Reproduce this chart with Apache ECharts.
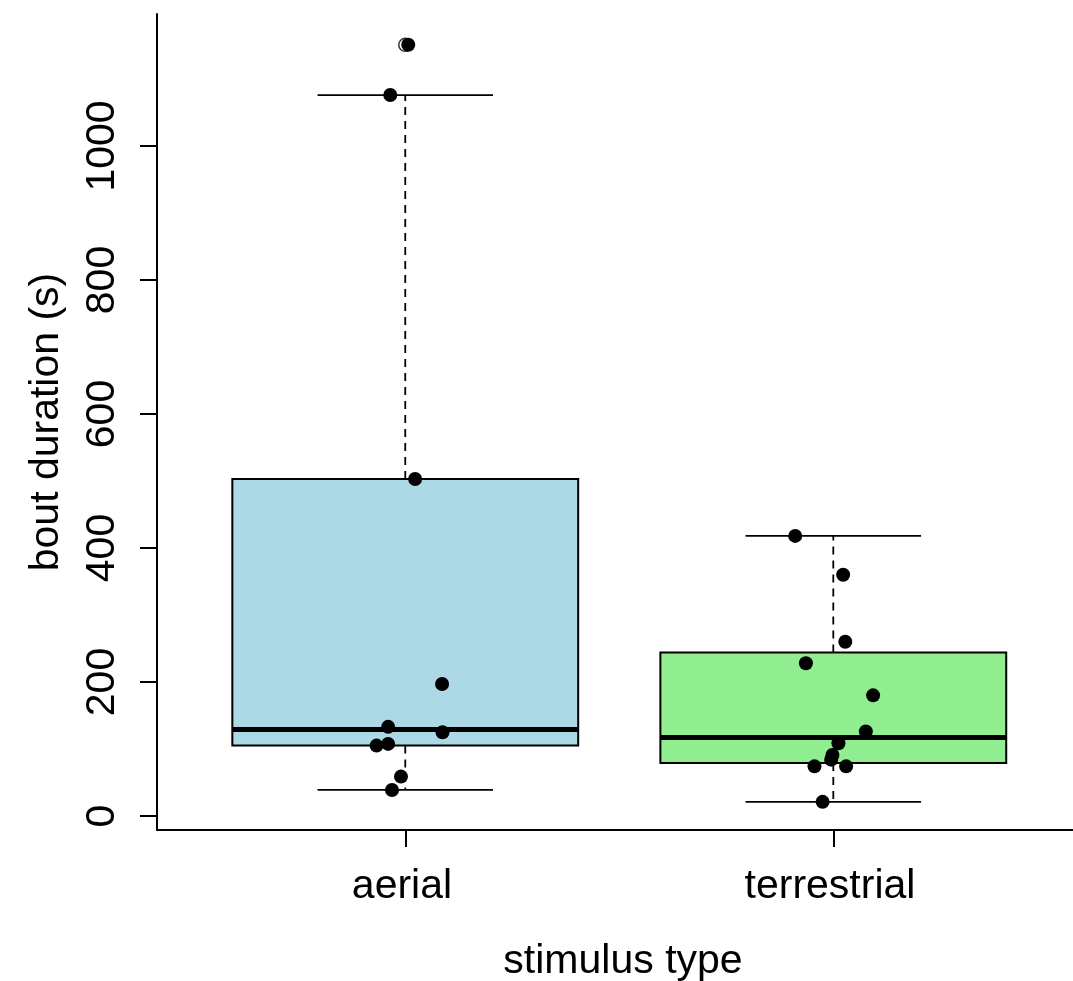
<!DOCTYPE html>
<html>
<head>
<meta charset="utf-8">
<script src="https://cdn.jsdelivr.net/npm/echarts@6/dist/echarts.min.js"></script>
<style>
  html, body { margin: 0; padding: 0; background: #ffffff; }
  #chart { width: 1073px; height: 981px; }
</style>
</head>
<body>
<div id="chart"></div>
<script>
// Bout durations (s) per stimulus type, with the horizontal jitter of each dot
const categories = ['aerial', 'terrestrial'];
const aerialValues = [1151, 1076, 503, 197, 133, 125, 107.5, 105, 58.7, 38.8];
const aerialJitter = [0.007, -0.035, 0.023, 0.086, -0.040, 0.087, -0.040, -0.067, -0.010, -0.031];
const terrestrialValues = [418, 360, 260, 228, 180, 126, 108.5, 91, 84, 74, 74, 21];
const terrestrialJitter = [-0.089, 0.023, 0.028, -0.064, 0.093, 0.076, 0.012, -0.002, -0.005, -0.044, 0.030, -0.025];
const yTickValues = [0, 200, 400, 600, 800, 1000];
const boxColors = ['#ADD8E6', '#90EE90'];

const FONT = '"Liberation Sans", Arial, sans-serif';
const FONT_SIZE = 41;

// Tukey five-number summary, same as R's fivenum()
function fivenum(values) {
  const x = values.slice().sort((a, b) => a - b);
  const n = x.length;
  const n4 = Math.floor((n + 3) / 2) / 2;
  const d = [1, n4, (n + 1) / 2, n + 1 - n4, n];
  return d.map(v => 0.5 * (x[Math.floor(v) - 1] + x[Math.ceil(v) - 1]));
}

// Box statistics with 1.5 * IQR whiskers
function boxStats(values) {
  const f = fivenum(values);
  const iqr = f[3] - f[1];
  const lo = f[1] - 1.5 * iqr, hi = f[3] + 1.5 * iqr;
  const inside = values.filter(v => v >= lo && v <= hi);
  return {
    low: Math.min.apply(null, inside),
    q1: f[1], med: f[2], q3: f[3],
    high: Math.max.apply(null, inside),
    outliers: values.filter(v => v < lo || v > hi)
  };
}

const groups = [aerialValues, terrestrialValues];
const jitters = [aerialJitter, terrestrialJitter];
const boxData = [];
const outlierData = [];
const pointData = [];
groups.forEach((vals, i) => {
  const pos = i + 1;
  const s = boxStats(vals);
  boxData.push([pos, s.low, s.q1, s.med, s.q3, s.high, i]);
  s.outliers.forEach(v => outlierData.push([pos, v]));
  vals.forEach((v, k) => pointData.push([pos + jitters[i][k], v]));
});

const BOX_HALF = 0.404;
const CAP_HALF = 0.205;

function renderBox(params, api) {
  const x = api.value(0);
  const yLow = api.coord([x, api.value(1)])[1];
  const yQ1 = api.coord([x, api.value(2)])[1];
  const yMed = api.coord([x, api.value(3)])[1];
  const yQ3 = api.coord([x, api.value(4)])[1];
  const yHigh = api.coord([x, api.value(5)])[1];
  const cx = api.coord([x, 0])[0];
  const left = api.coord([x - BOX_HALF, 0])[0];
  const right = api.coord([x + BOX_HALF, 0])[0];
  const capL = api.coord([x - CAP_HALF, 0])[0];
  const capR = api.coord([x + CAP_HALF, 0])[0];
  const fill = boxColors[api.value(6)];
  const thin = { stroke: '#000', lineWidth: 1.8 };
  const dashed = { stroke: '#000', lineWidth: 1.8, lineDash: [8, 6] };
  return {
    type: 'group',
    children: [
      { type: 'line', shape: { x1: cx, y1: yQ3, x2: cx, y2: yHigh }, style: dashed },
      { type: 'line', shape: { x1: cx, y1: yQ1, x2: cx, y2: yLow }, style: dashed },
      { type: 'line', shape: { x1: capL, y1: yHigh, x2: capR, y2: yHigh }, style: thin },
      { type: 'line', shape: { x1: capL, y1: yLow, x2: capR, y2: yLow }, style: thin },
      { type: 'rect', shape: { x: left, y: yQ3, width: right - left, height: yQ1 - yQ3 },
        style: { fill: fill, stroke: '#000', lineWidth: 2 } },
      { type: 'line', shape: { x1: left, y1: yMed, x2: right, y2: yMed },
        style: { stroke: '#000', lineWidth: 5 } }
    ]
  };
}

const chart = echarts.init(document.getElementById('chart'), null, { renderer: 'canvas' });

const blackLine = { color: '#000', width: 2 };

chart.setOption({
  animation: false,
  backgroundColor: '#ffffff',
  grid: [
    // plotting region
    { left: 157, right: 0, top: 14, bottom: 151, outerBoundsMode: 'none' },
    // y tick marks and labels (0..1000)
    { left: 157, right: 0, top: 146, bottom: 165, outerBoundsMode: 'none' },
    // category ticks and labels
    { left: 192, right: 25, top: 14, bottom: 151, outerBoundsMode: 'none' }
  ],
  xAxis: [
    { type: 'value', gridIndex: 0, min: 0.42, max: 2.56,
      axisLine: { show: true, onZero: false, lineStyle: blackLine },
      axisTick: { show: false }, axisLabel: { show: false }, splitLine: { show: false } },
    { type: 'value', gridIndex: 1, show: false, min: 0, max: 1 },
    { type: 'category', gridIndex: 2, data: categories, boundaryGap: true,
      axisLine: { show: false },
      axisTick: { show: true, alignWithLabel: true, length: 17, lineStyle: blackLine },
      axisLabel: { fontSize: FONT_SIZE, color: '#000', fontFamily: FONT, margin: 36,
        padding: [0, 8, 0, 0] },
      name: 'stimulus type', nameLocation: 'middle', nameGap: 111,
      nameTextStyle: { fontSize: FONT_SIZE, color: '#000', fontFamily: FONT, padding: [0, 0, 0, 6] },
      splitLine: { show: false } }
  ],
  yAxis: [
    { type: 'value', gridIndex: 0, min: -21, max: 1197,
      axisLine: { show: true, onZero: false, lineStyle: blackLine },
      axisTick: { show: false }, axisLabel: { show: false }, splitLine: { show: false },
      name: 'bout duration (s)', nameLocation: 'middle', nameRotate: 90, nameGap: 90,
      nameTextStyle: { fontSize: FONT_SIZE, color: '#000', fontFamily: FONT } },
    { type: 'value', gridIndex: 1, min: yTickValues[0], max: yTickValues[yTickValues.length - 1],
      interval: yTickValues[1] - yTickValues[0],
      axisLine: { show: false },
      axisTick: { show: true, length: 17, lineStyle: blackLine },
      axisLabel: { rotate: 90, fontSize: FONT_SIZE, color: '#000', fontFamily: FONT, margin: 34,
        formatter: v => String(v) },
      splitLine: { show: false } },
    { type: 'value', gridIndex: 2, show: false, min: 0, max: 1 }
  ],
  series: [
    { type: 'custom', xAxisIndex: 0, yAxisIndex: 0, renderItem: renderBox,
      data: boxData, encode: { x: 0, y: [1, 2, 3, 4, 5] }, clip: false, z: 2 },
    { type: 'scatter', xAxisIndex: 0, yAxisIndex: 0, data: outlierData,
      symbol: 'circle', symbolSize: 13,
      itemStyle: { color: 'rgba(0,0,0,0)', borderColor: '#000', borderWidth: 1.5 }, z: 3 },
    { type: 'scatter', xAxisIndex: 0, yAxisIndex: 0, data: pointData,
      symbol: 'circle', symbolSize: 14, itemStyle: { color: '#000', opacity: 1 }, z: 4 }
  ]
});
</script>
</body>
</html>
